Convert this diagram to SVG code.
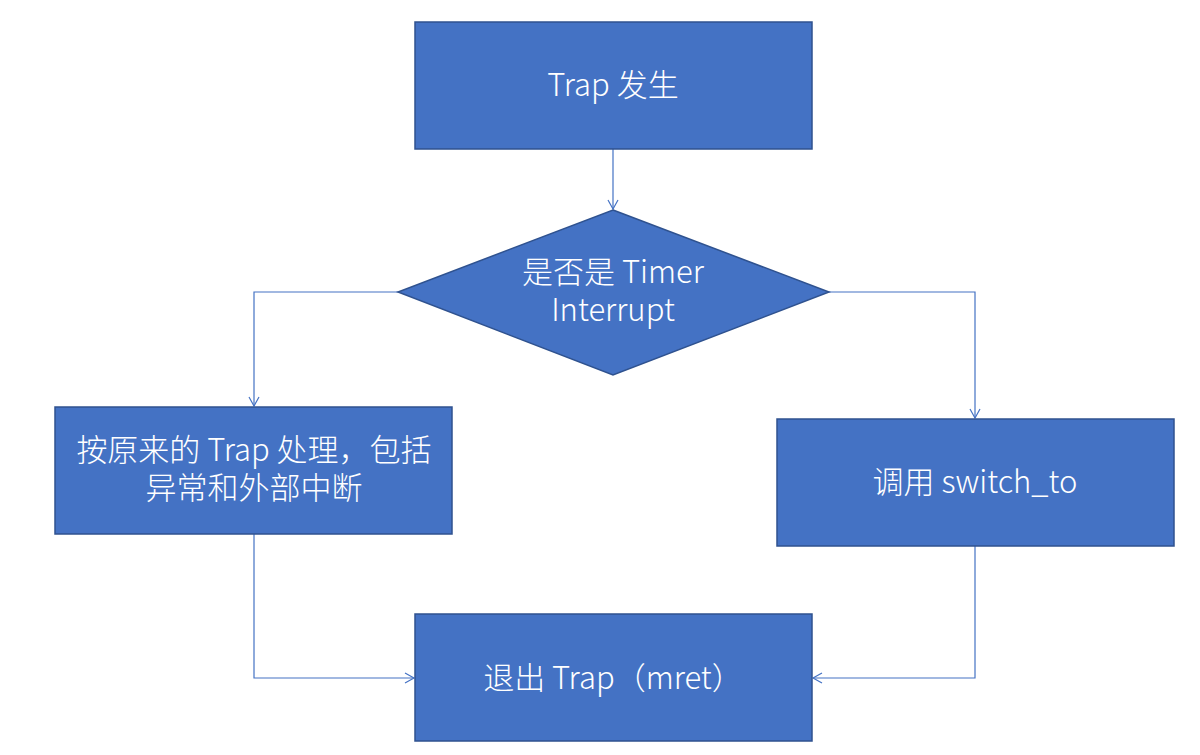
<svg xmlns="http://www.w3.org/2000/svg" width="1200" height="755" viewBox="0 0 1200 755">
<style>
.box{fill:#4472C4;stroke:#2F528F;stroke-width:1.5}
.lbl{fill:#ffffff;font-family:"Noto Sans CJK SC","Noto Sans",sans-serif;font-size:31px;font-weight:300;text-anchor:middle}
.con{fill:none;stroke:#4472C4;stroke-width:1.2}
</style>
<defs>
<marker id="arr" markerWidth="12" markerHeight="12" refX="10" refY="6" orient="auto" markerUnits="userSpaceOnUse">
<path d="M1,1 L10,6 L1,11" fill="none" stroke="#4472C4" stroke-width="1.2"/>
</marker>
</defs>
<rect width="1200" height="755" fill="#ffffff"/>
<g id="connectors">
<path class="con" d="M613,149 L613,209" marker-end="url(#arr)"/>
<path class="con" d="M398,292 L254,292 L254,406" marker-end="url(#arr)"/>
<path class="con" d="M829,292 L975,292 L975,418" marker-end="url(#arr)"/>
<path class="con" d="M254,534 L254,678 L414,678" marker-end="url(#arr)"/>
<path class="con" d="M975,546 L975,678 L813,678" marker-end="url(#arr)"/>
</g>
<g id="start">
<rect class="box" x="415" y="22" width="397" height="127"/>
<text class="lbl" x="613" y="96">Trap 发生</text>
</g>
<g id="decision">
<polygon class="box" points="613,210 829,292 613,375 398,292"/>
<text class="lbl" x="613" y="283">是否是 Timer</text>
<text class="lbl" x="613" y="321">Interrupt</text>
</g>
<g id="handle">
<rect class="box" x="55" y="407" width="397" height="127"/>
<text class="lbl" x="254" y="461">按原来的 Trap 处理，包括</text>
<text class="lbl" x="254" y="499">异常和外部中断</text>
</g>
<g id="switch">
<rect class="box" x="777" y="419" width="397" height="127"/>
<text class="lbl" x="975" y="493">调用 switch_to</text>
</g>
<g id="exit">
<rect class="box" x="415" y="614" width="397" height="127"/>
<text class="lbl" x="613" y="689">退出 Trap（mret）</text>
</g>
</svg>
